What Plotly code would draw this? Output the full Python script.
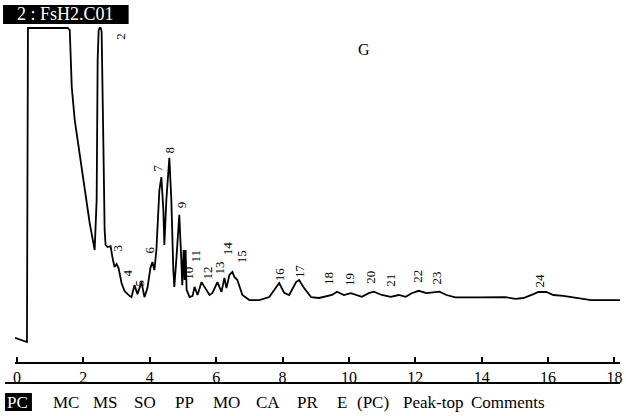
import plotly.graph_objects as go

# Chromatogram trace: retention time (min) and detector signal (mV)
time_min = [
    -0.06, 0.30, 0.33, 1.53, 1.59, 1.62, 1.65, 1.74, 1.89, 2.04, 2.19, 2.34,
    2.40, 2.43, 2.46, 2.49, 2.52, 2.55, 2.58, 2.61, 2.64, 2.67,
    2.73, 2.82, 2.88, 2.94, 3.00, 3.06, 3.15, 3.24, 3.39, 3.45,
    3.54, 3.63, 3.75, 3.84, 3.93, 4.02, 4.08, 4.14, 4.20, 4.29, 4.35,
    4.41, 4.44, 4.50, 4.59, 4.65, 4.71, 4.74, 4.80, 4.89, 4.95, 4.98,
    5.02, 5.05, 5.08, 5.11, 5.20, 5.29, 5.35, 5.44, 5.56, 5.65, 5.80,
    5.89, 6.04, 6.16, 6.25, 6.31, 6.40, 6.49, 6.55, 6.64, 6.79, 7.00,
    7.30, 7.60, 7.81, 7.90, 8.05, 8.20, 8.41, 8.50, 8.65, 8.86, 9.10,
    9.49, 9.64, 9.85, 10.06, 10.21, 10.39, 10.60, 10.75, 10.99, 11.26,
    11.50, 11.71, 11.89, 12.10, 12.34, 12.55, 12.73, 12.94, 13.21, 13.90,
    14.71, 15.02, 15.26, 15.56, 15.71, 15.95, 16.16, 16.46, 16.91, 17.30,
    18.17,
]
signal_mv = [
    -13.3, -14.7, 90.0, 90.0, 89.3, 81.7, 70.3, 59.3, 47.7, 35.0, 25.0, 16.0,
    32.7, 79.3, 89.3, 90.0, 90.0, 88.7, 72.7, 46.0, 22.7, 17.7,
    17.0, 17.3, 13.3, 10.3, 11.3, 10.0, 5.0, 2.3, 0.7, 0.3,
    4.3, 1.3, 5.3, 0.3, 3.3, 10.0, 12.0, 9.3, 16.0, 36.0, 40.3,
    29.3, 17.7, 32.7, 46.7, 32.7, 9.3, 3.7, 12.7, 27.7, 12.7, 4.3,
    16.0, 6.0, 16.0, 2.7, 0.3, 0.7, 3.7, 1.0, 5.3, 3.7, 1.0,
    1.7, 5.3, 2.0, 6.7, 3.3, 7.7, 8.7, 7.0, 6.0, 1.0, -0.7,
    -0.7, 0.3, 3.7, 5.0, 1.7, 1.0, 5.3, 6.0, 3.3, 0.3, 0.0,
    1.0, 2.1, 1.0, 1.6, 1.0, 0.4, 1.6, 2.1, 1.0, 0.4,
    1.0, 0.4, 1.6, 2.4, 1.6, 1.8, 2.1, 1.0, 0.2, 0.2,
    0.3, -0.3, 0.0, 1.3, 2.0, 2.0, 1.0, 0.7, 0.0, -0.7,
    -0.7,
]

# Peak numbers and where each number is printed
peak_ids = [str(n) for n in range(2, 25)]
peak_label_t = [3.12, 3.03, 3.33, 3.69, 3.99, 4.23, 4.59, 4.95, 5.17, 5.35,
                5.74, 6.10, 6.34, 6.79, 7.90, 8.50, 9.40, 10.00, 10.63, 11.23,
                12.04, 12.64, 15.74]
peak_label_mv = [87.3, 16.7, 8.3, 5.0, 16.0, 43.3, 49.3, 31.0, 8.3, 14.0,
                 8.3, 10.0, 16.7, 13.7, 8.0, 9.0, 6.7, 6.3, 7.0, 6.0,
                 7.3, 6.7, 6.0]

x_ticks = list(range(0, 19, 2))
footer_items = ["MC", "MS", "SO", "PP", "MO", "CA", "PR", "E", "(PC)",
                "Peak-top", "Comments"]
footer_left_px = [53, 93, 134, 176, 214, 257, 298, 338, 358, 404, 473]

SERIF = "Liberation Serif"
W, H = 626, 416
L, R, T, B = 15, 4, 25, 54
PW, PH = W - L - R, H - T - B


def px_x(p):
    return (p - L) / PW


def px_y(p):
    return (H - B - p) / PH


fig = go.Figure()
fig.add_trace(go.Scatter(
    x=time_min, y=signal_mv, mode="lines",
    line=dict(color="black", width=1.8), hoverinfo="skip",
))

annotations = []
for pid, t, v in zip(peak_ids, peak_label_t, peak_label_mv):
    annotations.append(dict(
        x=t, y=v, text=pid, showarrow=False, textangle=-90,
        font=dict(family=SERIF, size=13, color="black"),
        xanchor="center", yanchor="middle",
    ))

annotations.append(dict(
    x=10.45, y=82.7, text="G", showarrow=False,
    font=dict(family=SERIF, size=16, color="black"),
))

# header tag
annotations.append(dict(
    xref="paper", yref="paper", x=px_x(66), y=px_y(14.5),
    text="2 : FsH2.C01", showarrow=False,
    font=dict(family=SERIF, size=18, color="white"),
    xanchor="center", yanchor="middle",
))

# footer legend row
annotations.append(dict(
    xref="paper", yref="paper", x=px_x(18), y=px_y(402),
    text="PC", showarrow=False,
    font=dict(family=SERIF, size=17, color="white"),
    xanchor="center", yanchor="middle",
))
for word, left in zip(footer_items, footer_left_px):
    annotations.append(dict(
        xref="paper", yref="paper", x=px_x(left), y=px_y(402),
        text=word, showarrow=False,
        font=dict(family=SERIF, size=17, color="black"),
        xanchor="left", yanchor="middle", xshift=-2,
    ))

shapes = [
    dict(type="rect", xref="paper", yref="paper",
         x0=px_x(3), x1=px_x(129), y0=px_y(24), y1=px_y(5),
         fillcolor="black", line=dict(width=0), layer="below"),
    dict(type="rect", xref="paper", yref="paper",
         x0=px_x(5), x1=px_x(32), y0=px_y(411), y1=px_y(393),
         fillcolor="black", line=dict(width=0), layer="below"),
    dict(type="line", xref="paper", yref="paper",
         x0=px_x(5), x1=px_x(622), y0=px_y(383), y1=px_y(383),
         line=dict(color="black", width=2)),
]

fig.update_layout(
    width=W, height=H,
    margin=dict(l=L, r=R, t=T, b=B),
    paper_bgcolor="white", plot_bgcolor="white",
    showlegend=False,
    annotations=annotations, shapes=shapes,
    xaxis=dict(
        range=[(L - 17) / 33.3, (W - R - 17) / 33.3],
        tickvals=x_ticks, ticktext=[str(v) for v in x_ticks],
        ticks="inside", ticklen=5, tickwidth=1.5, tickcolor="black",
        showline=True, linecolor="black", linewidth=2,
        showgrid=False, zeroline=False,
        tickfont=dict(family=SERIF, size=16, color="black"),
    ),
    yaxis=dict(
        range=[(298 - (H - B)) / 3, (298 - T) / 3],
        visible=False, showgrid=False, zeroline=False,
    ),
)

fig.write_html("out.html")
